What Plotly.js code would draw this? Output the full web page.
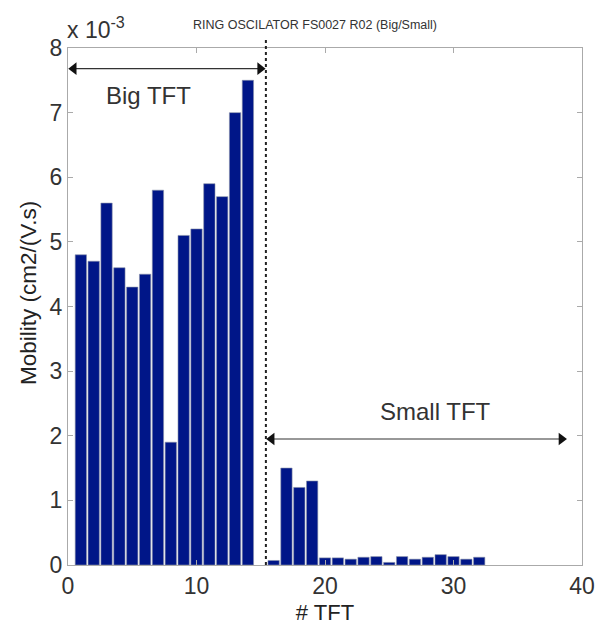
<!DOCTYPE html>
<html>
<head>
<meta charset="utf-8">
<script src="https://cdn.plot.ly/plotly-3.0.1.min.js"></script>
<style>html,body{margin:0;padding:0;background:#fff;}#chart{width:598px;height:632px;}</style>
</head>
<body>
<div id="chart"></div>
<script>
// TFT index and mobility values (in units of 1e-3 cm2/(V.s))
const bigTFT = [1,2,3,4,5,6,7,8,9,10,11,12,13,14];
const bigMobility = [4.8,4.7,5.6,4.6,4.3,4.5,5.8,1.9,5.1,5.2,5.9,5.7,7.0,7.5];
const smallTFT = [16,17,18,19,20,21,22,23,24,25,26,27,28,29,30,31,32];
const smallMobility = [0.07,1.5,1.2,1.3,0.11,0.11,0.09,0.12,0.13,0.04,0.13,0.09,0.12,0.16,0.13,0.09,0.12];
const xTicks = [0,10,20,30,40];
const yTicks = [0,1,2,3,4,5,6,7,8];
const divider = 15.4;
const bigArrowX = [0.45, 14.95], bigArrowY = [7.68, 7.68];
const smallArrowX = [15.85, 38.4], smallArrowY = [1.95, 1.95];

const font = "Liberation Sans, Arial, Helvetica, sans-serif";
const barColor = "rgb(0,22,136)";

const arrowStyle = {type:"scatter", mode:"lines+markers", hoverinfo:"skip", showlegend:false,
  line:{color:"#333", width:1.2},
  marker:{symbol:["triangle-left","triangle-right"], size:11, color:"#111"}};

const traces = [
  {type:"bar", x:bigTFT, y:bigMobility, width:0.88, marker:{color:barColor, line:{width:0.6, color:"#8890a8"}}, hoverinfo:"x+y", showlegend:false},
  {type:"bar", x:smallTFT, y:smallMobility, width:0.88, marker:{color:barColor, line:{width:0.6, color:"#8890a8"}}, hoverinfo:"x+y", showlegend:false},
  Object.assign({}, arrowStyle, {x:bigArrowX, y:bigArrowY}),
  Object.assign({}, arrowStyle, {x:smallArrowX, y:smallArrowY})
];

const axisCommon = {
  showgrid:false, zeroline:false, showline:true, linecolor:"#aaaaaa", linewidth:1.2,
  mirror:"ticks", ticks:"inside", ticklen:5, tickcolor:"#aaaaaa", tickwidth:1,
  tickfont:{family:font, size:23, color:"#333"}
};

const layout = {
  width:598, height:632,
  margin:{l:68, r:16, t:48, b:67},
  paper_bgcolor:"#fff", plot_bgcolor:"#fff",
  bargap:0,
  title:{text:"RING OSCILATOR FS0027 R02 (Big/Small)", font:{family:font, size:12.5, color:"#333"}, x:315/598, xref:"container", y:1-25/632, yref:"container", yanchor:"middle", xanchor:"center"},
  xaxis:Object.assign({}, axisCommon, {range:[0,40], tickvals:xTicks, ticktext:xTicks.map(String),
    title:{text:"# TFT", font:{family:font, size:22, color:"#222"}, standoff:6}}),
  yaxis:Object.assign({}, axisCommon, {range:[0,8], tickvals:yTicks, ticktext:yTicks.map(String)}),
  shapes:[
    {type:"line", xref:"x", yref:"paper", x0:divider, x1:divider, y0:0, y1:1.016,
     line:{color:"#222", width:2, dash:"dot"}}
  ],
  annotations:[
    {xref:"paper", yref:"paper", x:-0.005, y:1.005, xanchor:"left", yanchor:"bottom", showarrow:false,
     text:"x 10<sup>-3</sup>", font:{family:font, size:23, color:"#333"}},
    {xref:"paper", yref:"paper", x:-40/514, y:(565-293)/517, xanchor:"center", yanchor:"middle", textangle:-90, showarrow:false,
     text:"Mobility (cm2/(V.s)", font:{family:font, size:22.5, color:"#222"}},
    {xref:"x", yref:"y", x:6.3, y:7.26, text:"Big TFT", showarrow:false, font:{family:font, size:24, color:"#333"}},
    {xref:"x", yref:"y", x:28.6, y:2.38, text:"Small TFT", showarrow:false, font:{family:font, size:24, color:"#333"}}
  ]
};

Plotly.newPlot("chart", traces, layout, {displayModeBar:false, staticPlot:true});
</script>
</body>
</html>
